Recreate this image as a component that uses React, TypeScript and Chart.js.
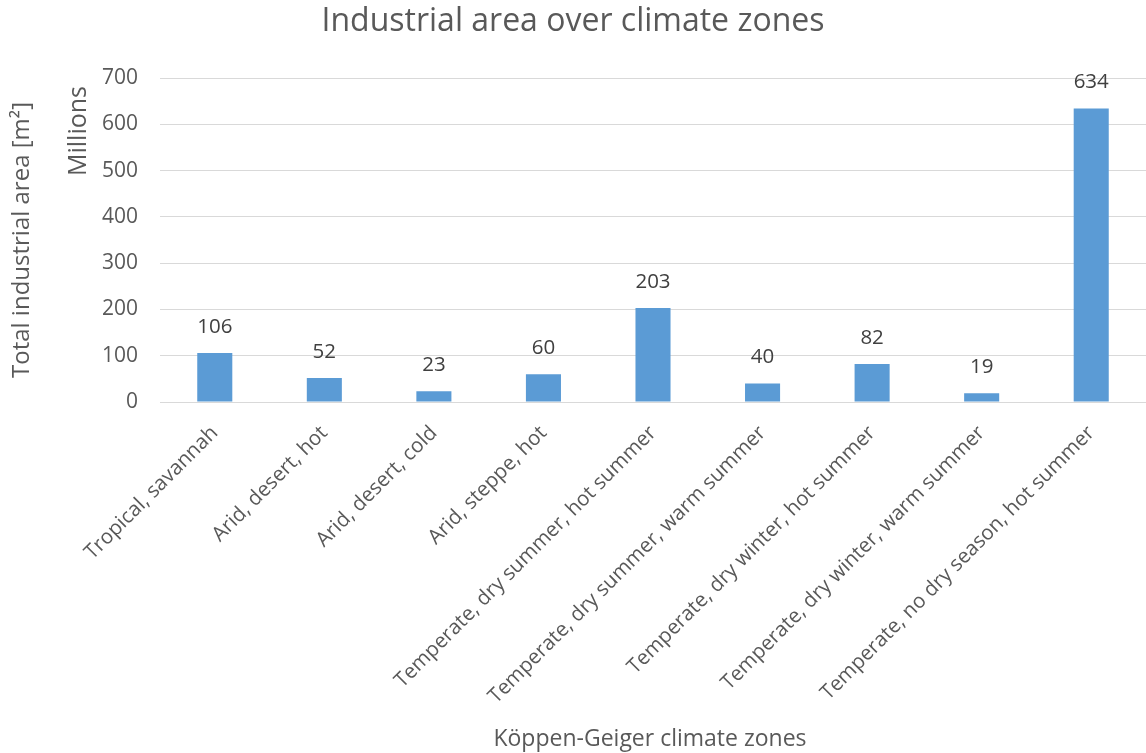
import React, { useEffect, useRef } from "react";
import { Chart, registerables } from "chart.js";

Chart.register(...registerables);

const categories: string[] = [
  "Tropical, savannah",
  "Arid, desert, hot",
  "Arid, desert, cold",
  "Arid, steppe, hot",
  "Temperate, dry summer, hot summer",
  "Temperate, dry summer, warm summer",
  "Temperate, dry winter, hot summer",
  "Temperate, dry winter, warm summer",
  "Temperate, no dry season, hot summer",
];
const areaMillions: number[] = [106, 52, 23, 60, 203, 40, 82, 19, 634];
const chartTitle = "Industrial area over climate zones";
const yAxisTitle = "Total industrial area [m²]";
const yUnitLabel = "Millions";
const xAxisTitle = "Köppen-Geiger climate zones";

const FONT = "'Open Sans', 'Liberation Sans', sans-serif";
const TEXT = "#595959";

const textPlugin = {
  id: "extraText",
  afterDatasetsDraw(chart: any) {
    const ctx = chart.ctx;
    const meta = chart.getDatasetMeta(0);
    ctx.save();
    ctx.fillStyle = "#404040";
    ctx.font = `20.5px ${FONT}`;
    ctx.textAlign = "center";
    ctx.textBaseline = "middle";
    meta.data.forEach((bar: any, i: number) => {
      ctx.fillText(String(areaMillions[i]), bar.x, bar.y - 26);
    });
    ctx.restore();
  },
  afterDraw(chart: any) {
    const ctx = chart.ctx;
    ctx.save();
    ctx.fillStyle = TEXT;
    ctx.textAlign = "center";
    ctx.textBaseline = "middle";
    ctx.font = `32px ${FONT}`;
    ctx.fillText(chartTitle, chart.width / 2, 22);
    ctx.font = `23px ${FONT}`;
    ctx.fillText(xAxisTitle, 650, 739);
    ctx.save();
    ctx.translate(22, 240);
    ctx.rotate(-Math.PI / 2);
    ctx.font = `24px ${FONT}`;
    ctx.fillText(yAxisTitle, 0, 0);
    ctx.restore();
    ctx.save();
    ctx.translate(79, 131);
    ctx.rotate(-Math.PI / 2);
    ctx.font = `25px ${FONT}`;
    ctx.fillText(yUnitLabel, 0, 0);
    ctx.restore();
    ctx.restore();
  },
};

export default function App() {
  const ref = useRef<HTMLCanvasElement | null>(null);
  useEffect(() => {
    if (!ref.current) return;
    const chart = new Chart(ref.current, {
      type: "bar",
      data: {
        labels: categories,
        datasets: [
          {
            data: areaMillions,
            backgroundColor: "#5b9bd5",
            barPercentage: 0.32,
            categoryPercentage: 1,
          },
        ],
      },
      options: {
        animation: false,
        responsive: false,
        layout: { padding: { top: 78, left: 0, right: 0, bottom: 0 } },
        plugins: {
          legend: { display: false },
          title: { display: false },
          tooltip: { enabled: false },
        },
        scales: {
          x: {
            grid: { display: false, drawTicks: false },
            border: { display: false },
            ticks: {
              color: TEXT,
              font: { family: FONT, size: 20.5 },
              minRotation: 45,
              maxRotation: 45,
              autoSkip: false,
              padding: 19,
            },
            afterFit: (s: any) => {
              s.height = 351;
            },
          },
          y: {
            min: 0,
            max: 700,
            ticks: {
              stepSize: 100,
              color: TEXT,
              font: { family: FONT, size: 21 },
              padding: 22,
            },
            grid: { color: "#d9d9d9", lineWidth: 1, drawTicks: false },
            border: { display: false },
            afterFit: (s: any) => {
              s.width = 160;
            },
          },
        },
      },
      plugins: [textPlugin],
    });
    return () => chart.destroy();
  }, []);
  return (
    <div style={{ position: "fixed", left: 0, top: 0, width: 1146, height: 753, background: "#fff" }}>
      <canvas ref={ref} width={1146} height={753} style={{ width: 1146, height: 753 }} />
    </div>
  );
}
